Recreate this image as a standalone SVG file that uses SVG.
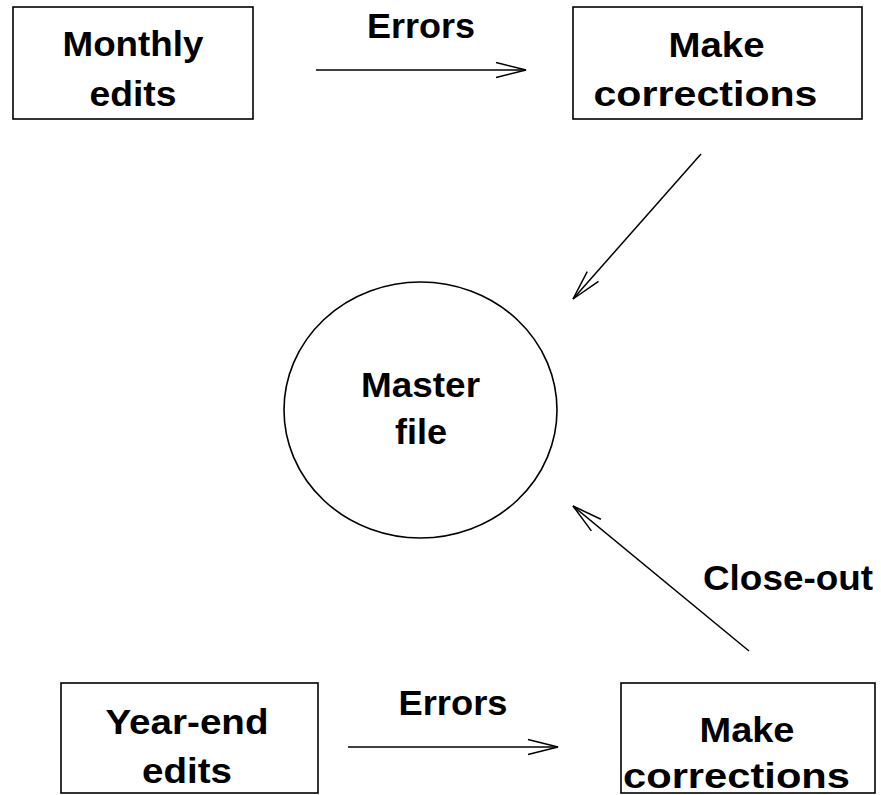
<svg xmlns="http://www.w3.org/2000/svg" width="881" height="795" viewBox="0 0 881 795">
<style>
.box{fill:#fff;stroke:#000;stroke-width:1.6}
.lbl{font-family:"Liberation Sans",Arial,Helvetica,sans-serif;font-weight:bold;font-size:35px;fill:#000;text-anchor:middle}
.edge{stroke:#000;stroke-width:1.5;fill:none;marker-end:url(#open)}
</style>
<defs>
<marker id="open" markerUnits="userSpaceOnUse" markerWidth="34" markerHeight="20" refX="31" refY="9" orient="auto" viewBox="0 0 34 20">
<path d="M1,1.5 L31,9 L1,16.5" fill="none" stroke="#000" stroke-width="1.5"/>
</marker>
</defs>
<rect width="881" height="795" fill="#fff"/>
<g id="connectors">
<line class="edge" x1="316" y1="70" x2="526" y2="70"/>
<line class="edge" x1="701" y1="154" x2="573" y2="299"/>
<line class="edge" x1="749" y1="651" x2="573" y2="506"/>
<line class="edge" x1="348" y1="747" x2="558" y2="747"/>
<text class="lbl" x="421" y="38" textLength="108" lengthAdjust="spacingAndGlyphs">Errors</text>
<text class="lbl" x="788" y="590" textLength="170" lengthAdjust="spacingAndGlyphs">Close-out</text>
<text class="lbl" x="453" y="715" textLength="109" lengthAdjust="spacingAndGlyphs">Errors</text>
</g>
<g id="monthly-edits">
<rect class="box" x="13" y="7" width="240" height="112"/>
<text class="lbl" x="133" y="56" textLength="141" lengthAdjust="spacingAndGlyphs">Monthly</text>
<text class="lbl" x="133" y="106" textLength="87" lengthAdjust="spacingAndGlyphs">edits</text>
</g>
<g id="make-corrections-1">
<rect class="box" x="573" y="7" width="289" height="112"/>
<text class="lbl" x="716.5" y="57" textLength="96" lengthAdjust="spacingAndGlyphs">Make</text>
<text class="lbl" x="705.5" y="106" textLength="224" lengthAdjust="spacingAndGlyphs">corrections</text>
</g>
<g id="master-file">
<ellipse class="box" cx="420.5" cy="410" rx="136.5" ry="128"/>
<text class="lbl" x="420.5" y="397" textLength="119" lengthAdjust="spacingAndGlyphs">Master</text>
<text class="lbl" x="421" y="444" textLength="52" lengthAdjust="spacingAndGlyphs">file</text>
</g>
<g id="year-end-edits">
<rect class="box" x="61" y="683" width="257" height="110"/>
<text class="lbl" x="187" y="734" textLength="163" lengthAdjust="spacingAndGlyphs">Year-end</text>
<text class="lbl" x="187" y="783" textLength="90" lengthAdjust="spacingAndGlyphs">edits</text>
</g>
<g id="make-corrections-2">
<rect class="box" x="621" y="683" width="254" height="110"/>
<text class="lbl" x="747" y="742" textLength="95" lengthAdjust="spacingAndGlyphs">Make</text>
<text class="lbl" x="736.5" y="788" textLength="227" lengthAdjust="spacingAndGlyphs">corrections</text>
</g>
</svg>
